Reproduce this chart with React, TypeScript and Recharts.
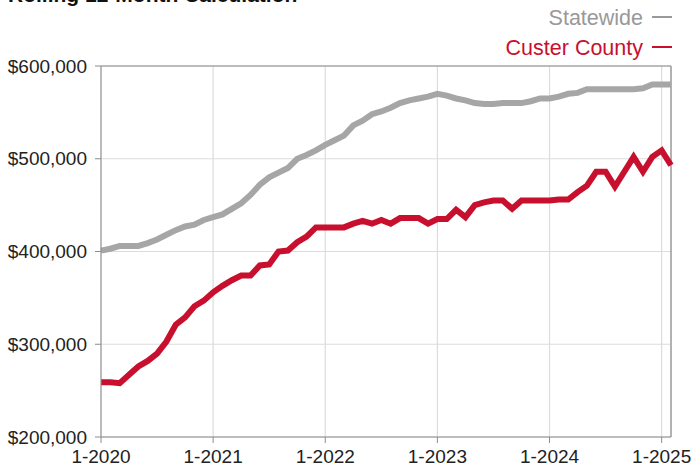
import React from "react";
import { LineChart, Line, XAxis, YAxis, CartesianGrid, ReferenceLine } from "recharts";

const statewide = [
  401, 403, 406, 406, 406, 409, 413, 418, 423, 427, 429, 434,
  437, 440, 446, 452, 461, 472, 480, 485, 490, 500, 504, 509,
  515, 520, 525, 536, 541, 548, 551, 555, 560, 563, 565, 567,
  570, 568, 565, 563, 560, 559, 559, 560, 560, 560, 562, 565,
  565, 567, 570, 571, 575, 575, 575, 575, 575, 575, 576, 580,
  580, 580,
];

const custer = [
  259, 259, 258, 267, 276, 282, 290, 303, 321, 329, 341, 347,
  356, 363, 369, 374, 374, 385, 386, 400, 401, 410, 416, 426,
  426, 426, 426, 430, 433, 430, 434, 430, 436, 436, 436, 430,
  435, 435, 445, 437, 450, 453, 455, 455, 446, 455, 455, 455,
  455, 456, 456, 464, 471, 486, 486, 470, 486, 502, 486, 502,
  509, 493,
];

const xTicks = [0, 12, 24, 36, 48, 60];
const xTickLabels = ["1-2020", "1-2021", "1-2022", "1-2023", "1-2024", "1-2025"];
const yTicks = [200000, 300000, 400000, 500000, 600000];

const data = statewide.map((s, i) => ({
  idx: i,
  month: `${(i % 12) + 1}-${2020 + Math.floor(i / 12)}`,
  statewide: s * 1000,
  custer: custer[i] * 1000,
}));

const FONT = "'Liberation Sans', Arial, Helvetica, sans-serif";
const GRAY = "#a6a6a6";
const RED = "#c8102e";
const AXIS = "#8c8c8c";

const fmtMoney = (v: number) => "$" + v.toLocaleString("en-US");
const fmtX = (v: number) => xTickLabels[xTicks.indexOf(v)] ?? "";

export default function App() {
  return (
    <div style={{ position: "absolute", left: 0, top: 0, width: 691, height: 466, background: "#fff", overflow: "hidden" }}>
      <LineChart
        width={691}
        height={466}
        data={data}
        margin={{ top: 66, right: 20, bottom: 0, left: 0 }}
      >
        <CartesianGrid stroke="#dcdcdc" strokeWidth={1.2} />
        <XAxis
          dataKey="idx"
          type="number"
          domain={[0, 61]}
          ticks={xTicks}
          tickFormatter={fmtX}
          stroke={AXIS}
          tickLine={{ stroke: AXIS }}
          tickSize={6}
          tickMargin={7}
          tick={{ fill: "#222", fontSize: 19, fontFamily: FONT }}
          interval={0}
          height={29}
        />
        <YAxis
          type="number"
          domain={[200000, 600000]}
          ticks={yTicks}
          tickFormatter={fmtMoney}
          stroke={AXIS}
          tickLine={{ stroke: AXIS }}
          tickSize={6}
          tickMargin={8}
          tick={{ fill: "#222", fontSize: 19, fontFamily: FONT }}
          width={101}
          interval={0}
        />
        <ReferenceLine y={600000} stroke={AXIS} strokeWidth={1.2} />
        <ReferenceLine x={61} stroke={AXIS} strokeWidth={1.2} />
        <Line
          dataKey="statewide"
          type="linear"
          stroke={GRAY}
          strokeWidth={6}
          dot={false}
          isAnimationActive={false}
        />
        <Line
          dataKey="custer"
          type="linear"
          stroke={RED}
          strokeWidth={6}
          dot={false}
          isAnimationActive={false}
        />
      </LineChart>
      <svg
        width={691}
        height={66}
        style={{ position: "absolute", left: 0, top: 0, pointerEvents: "none" }}
      >
        <text x={8} y={2} fontFamily={FONT} fontSize={21} fontWeight="bold" fill="#111">
          Rolling 12-Month Calculation
        </text>
        <text x={643} y={25} textAnchor="end" fontFamily={FONT} fontSize={21.5} fill="#999">
          Statewide
        </text>
        <line x1={652} x2={672} y1={17} y2={17} stroke="#999" strokeWidth={2} />
        <text x={643} y={55} textAnchor="end" fontFamily={FONT} fontSize={21.5} fill={RED}>
          Custer County
        </text>
        <line x1={652} x2={672} y1={47} y2={47} stroke={RED} strokeWidth={2} />
      </svg>
    </div>
  );
}
